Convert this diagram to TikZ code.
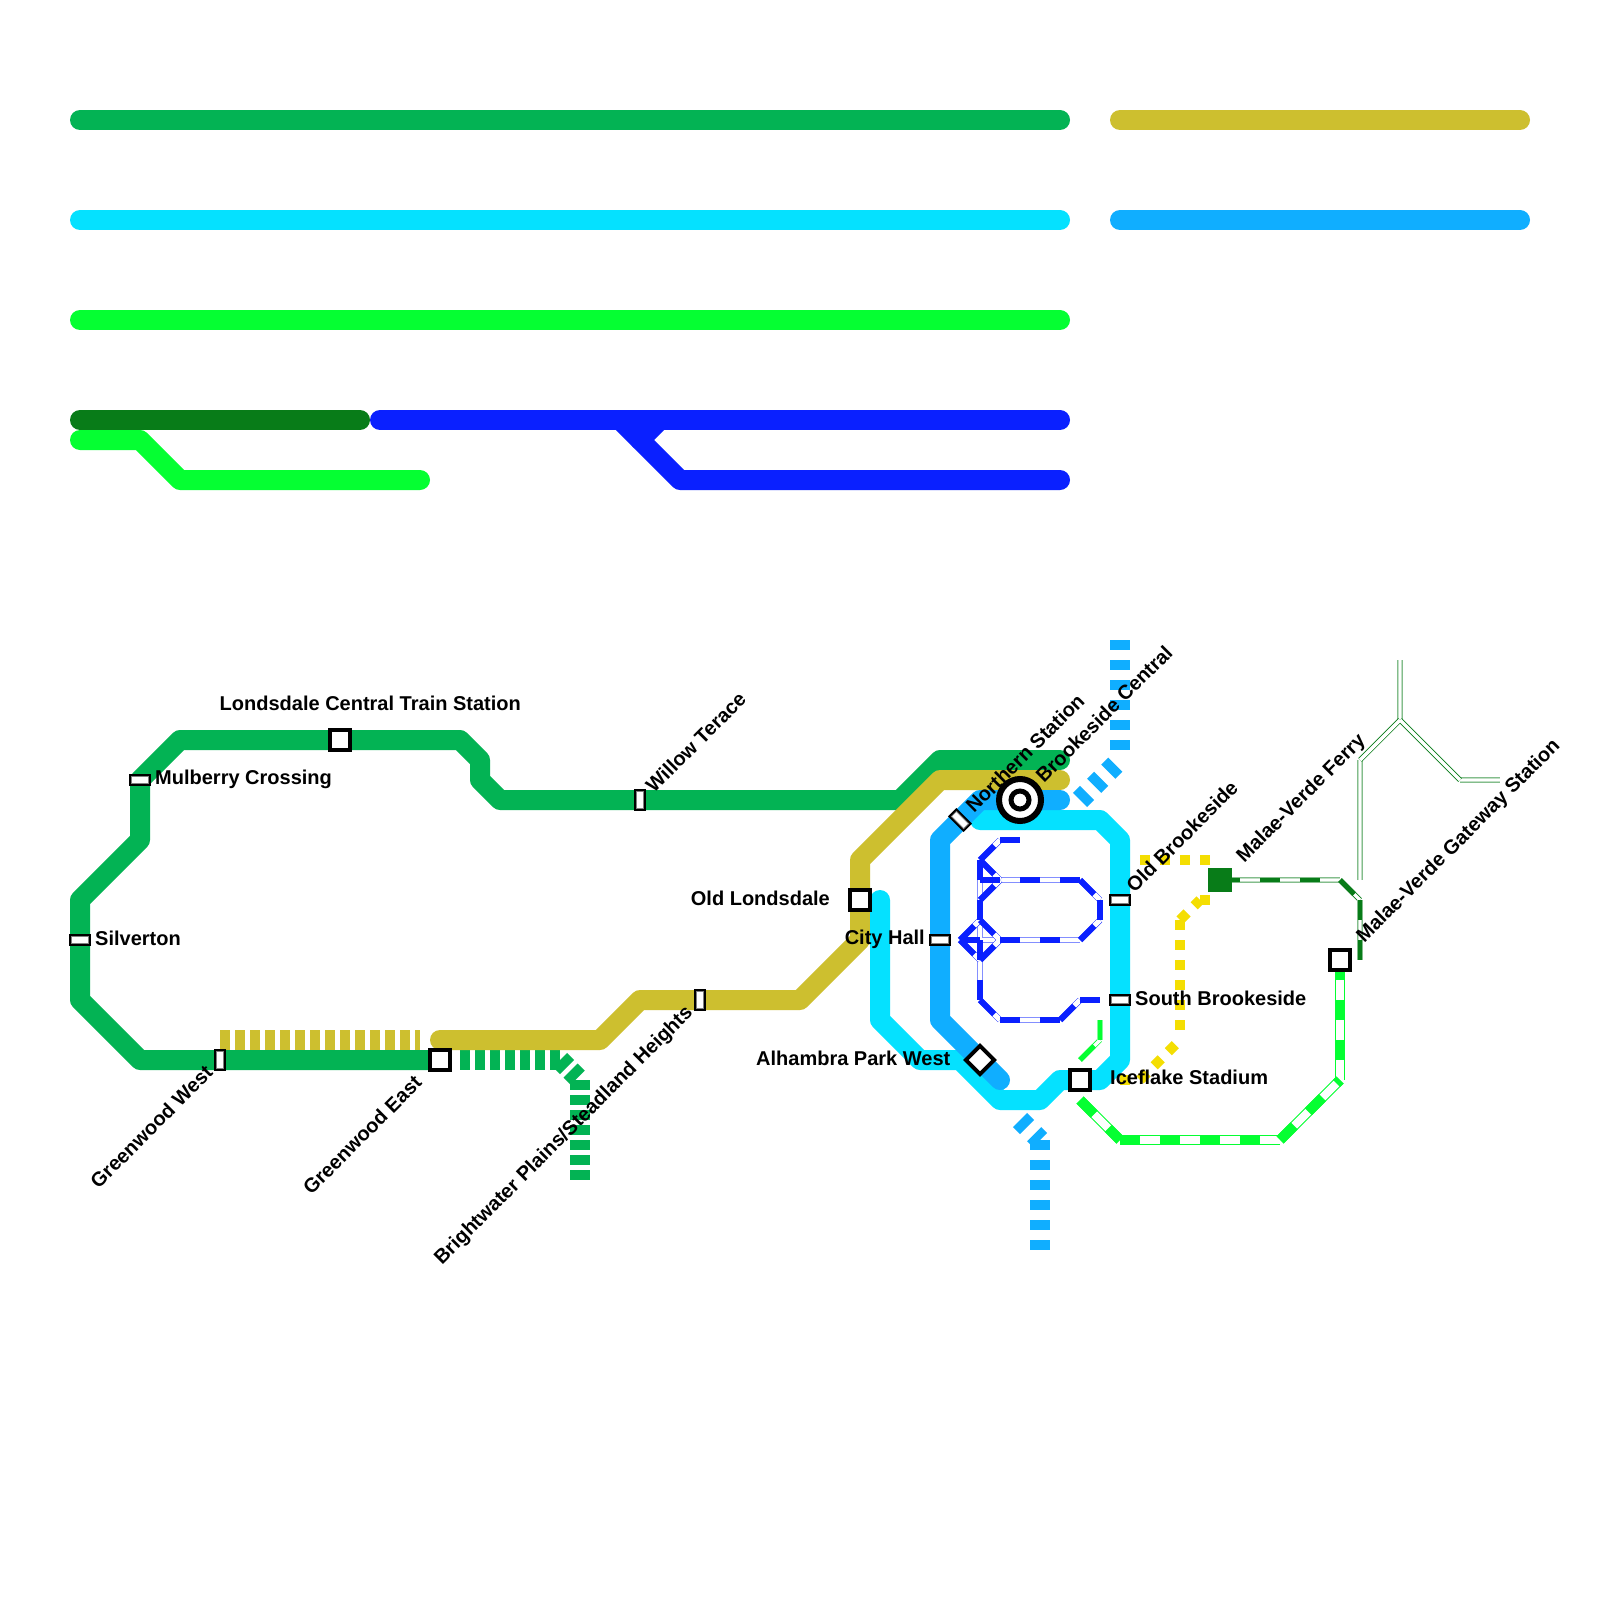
\documentclass[tikz,border=0pt]{standalone}
\usepackage{fontspec}
\setmainfont{Liberation Sans}
\definecolor{cGreen}{HTML}{03B354}
\definecolor{cOchre}{HTML}{CDBF2F}
\definecolor{cCyan}{HTML}{05E1FF}
\definecolor{cSky}{HTML}{10AEFF}
\definecolor{cLime}{HTML}{05FF32}
\definecolor{cDark}{HTML}{087C18}
\definecolor{cBlue}{HTML}{0A20FF}
\definecolor{cYellow}{HTML}{F4DE02}
\tikzset{
  solidline/.style={line width=20pt,line cap=round,line join=round,color=#1},
  lbl/.style={font=\bfseries\fontsize{20pt}{24pt}\selectfont,inner sep=0pt,text=black},
  plate/.style={fill=#1,inner sep=0pt,outer sep=0pt},
  rectout/.style={plate=black,minimum width=22pt,minimum height=12pt},
  rectmid/.style={plate=black!50!white,minimum width=18pt,minimum height=8pt},
  rectin/.style={plate=white,minimum width=16pt,minimum height=6pt},
  vrectout/.style={plate=black,minimum width=12pt,minimum height=22pt},
  vrectmid/.style={plate=black!50!white,minimum width=8pt,minimum height=18pt},
  vrectin/.style={plate=white,minimum width=6pt,minimum height=16pt},
  boxstn/.style={draw=black,fill=white,line width=4pt,minimum size=20pt,inner sep=0pt,outer sep=0pt},
  dashstripe/.style={dash pattern=on 20pt off 20pt},
}
% #1 colour, #2 width, #3 extra options, #4 segment list x1/y1/x2/y2
\newcommand{\segs}[4]{%
  \foreach \xa/\ya/\xb/\yb in {#4}{\draw[color=#1,line width=#2,#3] (\xa,\ya) -- (\xb,\yb);}
}
% thin double lines: axis-parallel and diagonal parts, then their dashes
\newcommand{\thinaxis}[2]{%
  \segs{#1!50!white}{6pt}{}{#2}
  \segs{#1!25!white}{4pt}{}{#2}
  \segs{white}{2pt}{}{#2}
}
\newcommand{\thinaxisdash}[2]{%
  \segs{#1!50!white}{6pt}{dashstripe}{#2}
  \segs{#1}{4pt}{dashstripe}{#2}
}
\newcommand{\thindiag}[2]{%
  \segs{#1}{5pt}{}{#2}
  \segs{white}{3.5pt}{}{#2}
}
% blue striped line: axis-parallel list, diagonal list
\newcommand{\bluestripes}[2]{%
  \segs{cBlue!50!white}{6pt}{}{#1}
  \segs{white}{4pt}{}{#1}
  \segs{cBlue}{6pt}{}{#2}
  \segs{white}{5pt}{}{#2}
  \segs{cBlue}{6pt}{dashstripe}{#1}
  \segs{cBlue}{6pt}{dashstripe}{#2}
}
\newcommand{\hstn}[4]{\node[rectout,#4] (#1) at (#2,#3) {}; \node[rectmid,#4] (#1mid) at (#2,#3) {}; \node[rectin,#4] (#1in) at (#2,#3) {};}
\newcommand{\vstn}[4]{\node[vrectout,#4] (#1) at (#2,#3) {}; \node[vrectmid,#4] (#1mid) at (#2,#3) {}; \node[vrectin,#4] (#1in) at (#2,#3) {};}
\begin{document}
\begin{tikzpicture}[x=1pt,y=-1pt]
\useasboundingbox (0,0) rectangle (1600,1600);
\fill[white] (0,0) rectangle (1600,1600);
% legend
\draw[solidline=cGreen] (80,120) -- (1060,120);
\draw[solidline=cOchre] (1120,120) -- (1520,120);
\draw[solidline=cCyan] (80,220) -- (1060,220);
\draw[solidline=cSky] (1120,220) -- (1520,220);
\draw[solidline=cLime] (80,320) -- (1060,320);
\draw[solidline=cLime] (80,440) -- (140,440) -- (180,480) -- (420,480);
\draw[solidline=cDark] (80,420) -- (360,420);
\draw[solidline=cBlue] (380,420) -- (1060,420);
\draw[solidline=cBlue] (620,420) -- (680,480) -- (1060,480);
\draw[solidline=cBlue] (640,440) -- (660,420);
% main lines
\draw[solidline=cGreen] (1060,760) -- (940,760) -- (900,800) -- (500,800) -- (480,780) -- (480,760) -- (460,740) -- (180,740) -- (140,780) -- (140,840) -- (80,900) -- (80,1000) -- (140,1060) -- (440,1060);
\segs{cGreen}{20pt}{dash pattern=on 10pt off 5pt}{460/1060/560/1060,560/1060/580/1080,580/1080/580/1180}
\segs{cOchre}{20pt}{dash pattern=on 10pt off 5pt}{220/1040/420/1040}
\draw[solidline=cOchre] (440,1040) -- (600,1040) -- (640,1000) -- (800,1000) -- (860,940) -- (860,860) -- (940,780) -- (1060,780);
\draw[solidline=cCyan] (880,900) -- (880,1020) -- (920,1060) -- (960,1060) -- (1000,1100) -- (1040,1100) -- (1060,1080) -- (1100,1080) -- (1120,1060) -- (1120,840) -- (1100,820) -- (980,820);
\draw[solidline=cSky] (1060,800) -- (980,800) -- (940,840) -- (940,1020) -- (1000,1080);
\segs{cSky}{20pt}{dash pattern=on 10pt off 10pt}{1120/640/1120/760,1080/800/1120/760,1020/1120/1040/1140,1040/1140/1040/1250}
\segs{cYellow}{10pt}{dash pattern=on 10pt off 10pt}{1140/860/1220/860,1200/900/1220/900,1180/920/1200/900,1180/920/1180/1040,1140/1080/1180/1040,1120/1080/1140/1080}
% blue striped line
\bluestripes{1000/840/1020/840,980/860/980/1000,980/880/1080/880,1100/900/1100/920,1000/940/1080/940,960/940/1000/940,1000/1020/1060/1020,1080/1000/1100/1000}{980/860/1000/840,980/860/1000/880,1080/880/1100/900,1080/940/1100/920,980/900/1000/880,980/920/1000/940,980/960/1000/940,960/940/980/920,960/940/980/960,980/1000/1000/1020,1060/1020/1080/1000}
% thin lime
\thinaxis{cLime}{1100/1020/1100/1040}
\thindiag{cLime}{1080/1060/1100/1040}
\thinaxisdash{cLime}{1100/1020/1100/1040}
\segs{cLime}{5pt}{dashstripe}{1080/1060/1100/1040}
% wide lime
\segs{cLime}{10pt}{}{1080/1100/1120/1140,1120/1140/1280/1140,1280/1140/1340/1080,1340/960/1340/1080}
\segs{white}{8pt}{}{1080/1100/1120/1140,1120/1140/1280/1140,1280/1140/1340/1080,1340/960/1340/1080}
\segs{cLime}{10pt}{dashstripe}{1080/1100/1120/1140,1120/1140/1280/1140,1280/1140/1340/1080,1340/960/1340/1080}
% dark green striped and double lines
\thinaxis{cDark}{1220/880/1340/880,1360/900/1360/960}
\thindiag{cDark}{1340/880/1360/900}
\thinaxisdash{cDark}{1220/880/1340/880,1360/900/1360/960}
\segs{cDark}{5pt}{dashstripe}{1340/880/1360/900}
\thinaxis{cDark}{1360/880/1360/760,1400/720/1400/660,1460/780/1500/780}
\thindiag{cDark}{1360/760/1400/720,1400/720/1460/780}
% stations
\node[boxstn] (londsdale) at (340,740) {};
\node[boxstn] (oldlond) at (860,900) {};
\node[boxstn] (gweast) at (440,1060) {};
\node[boxstn] (iceflake) at (1080,1080) {};
\node[boxstn] (gateway) at (1340,960) {};
\node[boxstn,rotate=45] (alhambra) at (980,1060) {};
\hstn{mulberry}{140}{780}{}
\hstn{silverton}{80}{940}{}
\hstn{cityhall}{940}{940}{}
\hstn{oldbrook}{1120}{900}{}
\hstn{southbrook}{1120}{1000}{}
\vstn{gwwest}{220}{1060}{}
\vstn{willow}{640}{800}{}
\vstn{brightwater}{700}{1000}{}
\vstn{northern}{960}{820}{rotate=45}
\node[fill=cDark,minimum size=24pt,inner sep=0pt,outer sep=0pt] (ferry) at (1220,880) {};
\node[circle,draw=black,fill=white,line width=6pt,minimum size=42pt,inner sep=0pt,outer sep=0pt] (central) at (1020,800) {};
\node[circle,draw=black,fill=white,line width=5pt,minimum size=18pt,inner sep=0pt,outer sep=0pt] (centralin) at (1020,800) {};
% labels
\node[lbl,anchor=west] (t1) at (219.5,703) {Londsdale Central Train Station};
\node[lbl,anchor=west] (t2) at (155,779.5) {Mulberry Crossing};
\node[lbl,anchor=west] (t3) at (95,938) {Silverton};
\node[lbl,anchor=east] (t4) at (830,898) {Old Londsdale};
\node[lbl,anchor=east] (t5) at (925,939) {City Hall};
\node[lbl,anchor=east] (t6) at (950.5,1058) {Alhambra Park West};
\node[lbl,anchor=west] (t7) at (1135,998) {South Brookeside};
\node[lbl,anchor=west] (t8) at (1110,1077.5) {Iceflake Stadium};
\node[lbl,anchor=west,rotate=45] (t9) at (649,789) {Willow Terace};
\node[lbl,anchor=west,rotate=45] (t10) at (969,809) {Northern Station};
\node[lbl,anchor=west,rotate=45] (t11) at (1039,779) {Brookeside Central};
\node[lbl,anchor=west,rotate=45] (t12) at (1129.5,889) {Old Brookeside};
\node[lbl,anchor=west,rotate=45] (t13) at (1240.5,860) {Malae-Verde Ferry};
\node[lbl,anchor=west,rotate=45] (t14) at (1360.5,940) {Malae-Verde Gateway Station};
\node[lbl,anchor=east,rotate=45] (t15) at (209,1069) {Greenwood West};
\node[lbl,anchor=east,rotate=45] (t16) at (418,1079) {Greenwood East};
\node[lbl,anchor=east,rotate=45] (t17) at (690,1010) {Brightwater Plains/Steadland Heights};
\end{tikzpicture}
\end{document}
